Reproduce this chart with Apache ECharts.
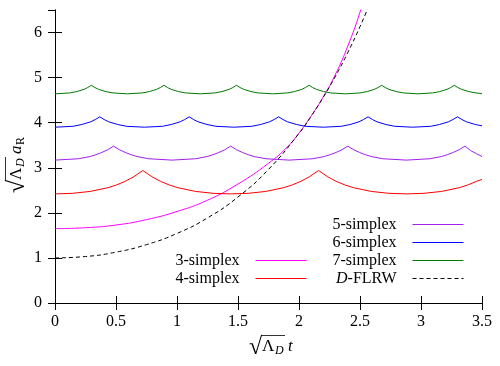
<!DOCTYPE html>
<html>
<head>
<meta charset="utf-8">
<script src="https://cdn.jsdelivr.net/npm/echarts@6/dist/echarts.min.js"></script>
<style>
    html, body { margin: 0; padding: 0; background: #fff; }
    #container { width: 500px; height: 366px; }
</style>
</head>
<body>
<div id="container"></div>
<script>
// [t, a] pairs
var simplex3 = [[0, 1.65], [0.25, 1.67], [0.5, 1.73], [0.75, 1.85], [1.0, 2.03], [1.25, 2.28], [1.5, 2.64],
    [1.75, 3.1], [1.9, 3.45], [2.0, 3.77], [2.1, 4.15], [2.2, 4.58], [2.3, 5.08], [2.4, 5.7], [2.5, 6.45], [2.6, 7.35]];

var simplex4 = [[0, 2.42], [0.144, 2.433], [0.288, 2.475], [0.432, 2.557], [0.504, 2.619], [0.576, 2.70], [0.648, 2.805], [0.72, 2.94],
    [0.792, 2.805], [0.864, 2.70], [0.936, 2.619], [1.008, 2.557], [1.152, 2.475], [1.296, 2.433], [1.44, 2.42],
    [1.584, 2.433], [1.728, 2.475], [1.872, 2.557], [1.944, 2.619], [2.016, 2.70], [2.088, 2.805], [2.16, 2.94],
    [2.232, 2.805], [2.304, 2.70], [2.376, 2.619], [2.448, 2.557], [2.592, 2.475], [2.736, 2.433], [2.88, 2.42],
    [3.024, 2.433], [3.168, 2.475], [3.312, 2.557], [3.384, 2.619], [3.456, 2.70], [3.5, 2.74]];

var simplex5 = [[0, 3.17], [0.192, 3.20], [0.288, 3.25], [0.336, 3.29], [0.384, 3.34], [0.432, 3.40], [0.48, 3.48],
    [0.528, 3.40], [0.576, 3.34], [0.624, 3.29], [0.672, 3.25], [0.768, 3.20], [0.96, 3.17],
    [1.152, 3.20], [1.248, 3.25], [1.296, 3.29], [1.344, 3.34], [1.392, 3.40], [1.44, 3.48],
    [1.488, 3.40], [1.536, 3.34], [1.584, 3.29], [1.632, 3.25], [1.728, 3.20], [1.92, 3.17],
    [2.112, 3.20], [2.208, 3.25], [2.256, 3.29], [2.304, 3.34], [2.352, 3.40], [2.40, 3.48],
    [2.448, 3.40], [2.496, 3.34], [2.544, 3.29], [2.592, 3.25], [2.688, 3.20], [2.88, 3.17],
    [3.072, 3.20], [3.168, 3.25], [3.216, 3.29], [3.264, 3.34], [3.312, 3.40], [3.36, 3.48],
    [3.408, 3.38], [3.456, 3.31], [3.5, 3.25]];

var simplex6 = [[0, 3.90], [0.147, 3.92], [0.22, 3.96], [0.293, 4.02], [0.33, 4.07], [0.367, 4.13],
    [0.403, 4.07], [0.44, 4.02], [0.513, 3.96], [0.586, 3.92], [0.733, 3.90],
    [0.88, 3.92], [0.953, 3.96], [1.026, 4.02], [1.063, 4.07], [1.1, 4.13],
    [1.136, 4.07], [1.173, 4.02], [1.246, 3.96], [1.319, 3.92], [1.466, 3.90],
    [1.613, 3.92], [1.686, 3.96], [1.759, 4.02], [1.796, 4.07], [1.833, 4.13],
    [1.869, 4.07], [1.906, 4.02], [1.979, 3.96], [2.052, 3.92], [2.199, 3.90],
    [2.346, 3.92], [2.419, 3.96], [2.492, 4.02], [2.529, 4.07], [2.566, 4.13],
    [2.602, 4.07], [2.639, 4.02], [2.712, 3.96], [2.785, 3.92], [2.932, 3.90],
    [3.079, 3.92], [3.152, 3.96], [3.225, 4.02], [3.262, 4.07], [3.299, 4.13],
    [3.335, 4.07], [3.372, 4.02], [3.445, 3.96], [3.5, 3.93]];

var simplex7 = [[0, 4.64], [0.119, 4.66], [0.179, 4.69], [0.238, 4.74], [0.268, 4.78], [0.298, 4.83],
    [0.327, 4.78], [0.357, 4.74], [0.417, 4.69], [0.476, 4.66], [0.595, 4.64],
    [0.714, 4.66], [0.774, 4.69], [0.833, 4.74], [0.863, 4.78], [0.893, 4.83],
    [0.922, 4.78], [0.952, 4.74], [1.012, 4.69], [1.071, 4.66], [1.19, 4.64],
    [1.309, 4.66], [1.369, 4.69], [1.428, 4.74], [1.458, 4.78], [1.488, 4.83],
    [1.517, 4.78], [1.547, 4.74], [1.607, 4.69], [1.666, 4.66], [1.785, 4.64],
    [1.904, 4.66], [1.964, 4.69], [2.023, 4.74], [2.053, 4.78], [2.083, 4.83],
    [2.112, 4.78], [2.142, 4.74], [2.202, 4.69], [2.261, 4.66], [2.38, 4.64],
    [2.499, 4.66], [2.559, 4.69], [2.618, 4.74], [2.648, 4.78], [2.678, 4.83],
    [2.707, 4.78], [2.737, 4.74], [2.797, 4.69], [2.856, 4.66], [2.975, 4.64],
    [3.094, 4.66], [3.154, 4.69], [3.213, 4.74], [3.243, 4.78], [3.273, 4.83],
    [3.302, 4.78], [3.332, 4.74], [3.392, 4.69], [3.451, 4.66], [3.5, 4.645]];

var flrw = [[0, 1], [0.25, 1.031], [0.5, 1.128], [0.75, 1.295], [1.0, 1.543], [1.25, 1.888], [1.5, 2.352],
    [1.75, 2.964], [2.0, 3.762], [2.1, 4.144], [2.2, 4.568], [2.3, 5.037], [2.4, 5.557], [2.5, 6.132], [2.6, 6.769]];

var serif = '"Liberation Serif", "Times New Roman", serif';

function line(name, data, color, smooth, dashed) {
    return {
        name: name,
        type: 'line',
        data: data,
        symbol: 'none',
        smooth: smooth,
        clip: true,
        lineStyle: { color: color, width: 1, type: dashed ? [4, 3] : 'solid' },
        itemStyle: { color: color }
    };
}

// sqrt(Lambda_D) followed by a symbol, drawn as real text pieces
function axisName(x, y, rot, tail, tailSub) {
    var kids = [
        { type: 'text', style: { text: '\u221A', x: 0, y: 1, font: '24px ' + serif, fill: '#000', verticalAlign: 'middle' } },
        { type: 'line', shape: { x1: 12, y1: -11.5, x2: 36, y2: -11.5 }, style: { stroke: '#000', lineWidth: 0.8 } },
        { type: 'text', style: { text: '\u039B', x: 13, y: 0, font: '17px ' + serif, fill: '#000', verticalAlign: 'middle' } },
        { type: 'text', style: { text: 'D', x: 26, y: 4, font: 'italic 12px ' + serif, fill: '#000', verticalAlign: 'middle' } },
        { type: 'text', style: { text: tail, x: 39, y: 0, font: 'italic 17px ' + serif, fill: '#000', verticalAlign: 'middle' } }
    ];
    if (tailSub) {
        kids.push({ type: 'text', style: { text: tailSub, x: 48, y: 4, font: '12px ' + serif, fill: '#000', verticalAlign: 'middle' } });
    }
    return { type: 'group', x: x, y: y, rotation: rot, children: kids };
}

var tickAxis = {
    axisLine: { lineStyle: { color: '#000', width: 1 } },
    axisTick: { inside: true, length: 7, lineStyle: { color: '#000' } },
    splitLine: { show: false }
};

var legendBase = {
    orient: 'vertical',
    align: 'right',
    padding: 0,
    itemWidth: 51,
    itemHeight: 14,
    itemGap: 2,
    selectedMode: false,
    itemStyle: { opacity: 0 },
    lineStyle: { width: 1 },
    textStyle: {
        fontFamily: serif, fontSize: 16, color: '#000', lineHeight: 16, padding: [0, 11, 0, 0],
        rich: { i: { fontFamily: serif, fontSize: 16, fontStyle: 'italic', color: '#000' } }
    },
    formatter: function (name) {
        return name === 'D-FLRW' ? '{i|D}-FLRW' : name;
    }
};

var option = {
    animation: false,
    backgroundColor: '#fff',
    grid: { left: 55, right: 18, top: 10, bottom: 63 }
};

option.xAxis = [
    Object.assign({}, tickAxis, {
        type: 'value', min: 0, max: 3.5, interval: 0.5, position: 'bottom',
        axisLabel: { color: '#000', fontFamily: serif, fontSize: 16, margin: 11 }
    }),
    Object.assign({}, tickAxis, {
        type: 'value', min: 0, max: 3.5, interval: 0.5, position: 'top',
        axisLabel: { show: false }
    })
];
option.yAxis = [
    Object.assign({}, tickAxis, {
        type: 'value', min: 0, max: 6.5, interval: 1, position: 'left',
        axisLabel: { color: '#000', fontFamily: serif, fontSize: 16, margin: 13, showMaxLabel: false }
    }),
    Object.assign({}, tickAxis, {
        type: 'value', min: 0, max: 6.5, interval: 1, position: 'right',
        axisLabel: { show: false }
    })
];
option.legend = [
    Object.assign({}, legendBase, { data: ['3-simplex', '4-simplex'], right: 193, top: 252.5 }),
    Object.assign({}, legendBase, { data: ['5-simplex', '6-simplex', '7-simplex', 'D-FLRW'], right: 36, top: 216.5 })
];
option.series = [
    line('3-simplex', simplex3, '#ff00ff', true, false),
    line('4-simplex', simplex4, '#ff0000', false, false),
    line('5-simplex', simplex5, '#a020f0', false, false),
    line('6-simplex', simplex6, '#0000ff', false, false),
    line('7-simplex', simplex7, '#007a00', false, false),
    line('D-FLRW', flrw, '#000000', true, true)
];
option.graphic = [
    axisName(249, 347, 0, 't', null),
    axisName(17, 193, Math.PI / 2, 'a', 'R')
];

echarts.init(document.getElementById('container')).setOption(option);
</script>
</body>
</html>
